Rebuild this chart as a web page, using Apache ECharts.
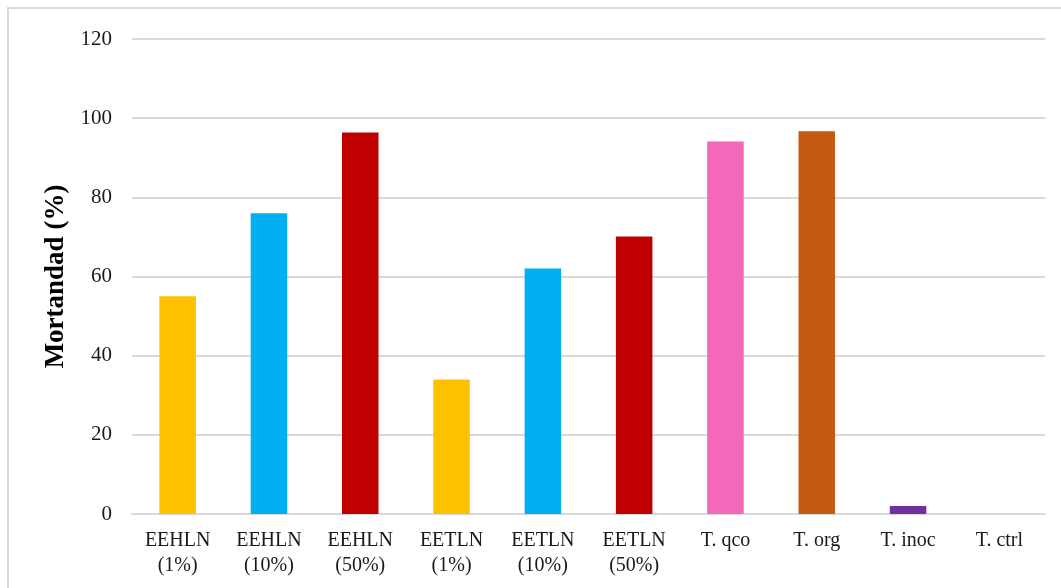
<!DOCTYPE html>
<html>
<head>
<meta charset="utf-8">
<script src="https://cdn.jsdelivr.net/npm/echarts@6/dist/echarts.min.js"></script>
<style>
html,body{margin:0;padding:0;background:#fff;}
#chart{width:1061px;height:588px;}
</style>
</head>
<body>
<div id="chart"></div>
<script>
const categories = ['EEHLN\n(1%)','EEHLN\n(10%)','EEHLN\n(50%)','EETLN\n(1%)','EETLN\n(10%)','EETLN\n(50%)','T. qco','T. org','T. inoc','T. ctrl'];
const mortality = [55, 76, 96.4, 34, 62, 70.1, 94.1, 96.7, 2, 0];
const barColors = ['#FFC000','#00B0F0','#C00000','#FFC000','#00B0F0','#C00000','#F468BC','#C55A11','#7030A0','#7030A0'];
const yTicks = {min: 0, max: 120, interval: 20};
const yAxisName = 'Mortandad (%)';

const chart = echarts.init(document.getElementById('chart'), null, {renderer: 'canvas'});
const font = '"Liberation Serif", "Times New Roman", serif';
chart.setOption({
  animation: false,
  backgroundColor: '#fff',
  graphic: [{
    type: 'rect',
    shape: {x: 8, y: 8, width: 1070, height: 600},
    style: {fill: 'none', stroke: '#d9d9d9', lineWidth: 2},
    silent: true
  }],
  grid: {left: 132, right: 16, top: 39, bottom: 74, containLabel: false},
  xAxis: {
    type: 'category',
    data: categories,
    axisLine: {show: true, lineStyle: {color: '#d9d9d9', width: 2}},
    axisTick: {show: false},
    axisLabel: {
      interval: 0,
      color: '#1a1a1a',
      fontFamily: font,
      fontSize: 20,
      lineHeight: 25,
      margin: 14
    }
  },
  yAxis: {
    type: 'value',
    min: yTicks.min,
    max: yTicks.max,
    interval: yTicks.interval,
    name: yAxisName,
    nameLocation: 'middle',
    nameRotate: 90,
    nameGap: 61,
    nameTextStyle: {fontFamily: font, fontSize: 27, fontWeight: 'bold', color: '#000'},
    axisLine: {show: false},
    axisTick: {show: false},
    axisLabel: {color: '#1a1a1a', fontFamily: font, fontSize: 21, margin: 20},
    splitLine: {lineStyle: {color: '#d9d9d9', width: 2}}
  },
  series: [{
    type: 'bar',
    barWidth: '40%',
    data: mortality.map((v, i) => ({value: v, itemStyle: {color: barColors[i]}}))
  }]
});
</script>
</body>
</html>
